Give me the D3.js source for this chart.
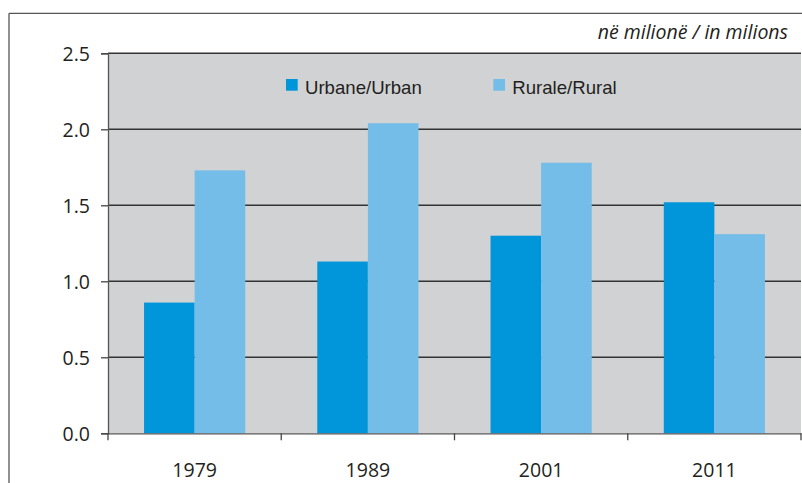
<!DOCTYPE html>
<html><head><meta charset="utf-8">
<script src="https://cdn.jsdelivr.net/npm/d3@7"></script>
<style>body{margin:0;background:#fff}svg{display:block}</style>
</head><body>
<svg id="c" width="802" height="483"></svg>
<script>
const years = ["1979","1989","2001","2011"];
const urban = [0.86, 1.13, 1.30, 1.52];
const rural = [1.73, 2.04, 1.78, 1.31];
const seriesNames = ["Urbane/Urban","Rurale/Rural"];
const seriesColors = ["#0096d9","#74bde8"];
const yTicks = [0, 0.5, 1.0, 1.5, 2.0, 2.5];
const unitLabel = "në milionë / in milions";

const svg = d3.select("#c");
const L = 108, R = 801, T = 53.3, B = 433.3;
const x = d3.scaleBand().domain(years).range([L, R]).paddingInner(0).paddingOuter(0);
const y = d3.scaleLinear().domain([0, 2.5]).range([B, T]);
const bw = x.bandwidth();
const x1 = d3.scaleBand().domain(seriesNames).range([bw*0.208, bw*0.792]).padding(0);

// outer frame
svg.append("line").attr("x1",9).attr("x2",802).attr("y1",13.3).attr("y2",13.3).attr("stroke","#555").attr("stroke-width",1.3);
svg.append("line").attr("x1",9).attr("x2",9).attr("y1",13.3).attr("y2",483).attr("stroke","#555").attr("stroke-width",1.3);

// plot background
svg.append("rect").attr("x",L).attr("y",T).attr("width",R-L).attr("height",B-T).attr("fill","#d1d2d4");

// gridlines
svg.append("g").selectAll("line").data(yTicks.filter(d=>d>0)).join("line")
  .attr("x1",L).attr("x2",R).attr("y1",d=>y(d)).attr("y2",d=>y(d))
  .attr("stroke","#333").attr("stroke-width",1.4);

// bars
const data = years.map((yr,i)=>({yr, vals:[urban[i], rural[i]]}));
const g = svg.append("g");
data.forEach(d=>{
  g.selectAll(null).data(d.vals.map((v,j)=>({v, s:seriesNames[j], c:seriesColors[j]}))).join("rect")
    .attr("x",e=>x(d.yr)+x1(e.s)).attr("width",x1.bandwidth())
    .attr("y",e=>y(e.v)).attr("height",e=>B-y(e.v)).attr("fill",e=>e.c);
});

// y axis
const ya = svg.append("g").attr("transform",`translate(${L},0)`)
  .call(d3.axisLeft(y).tickValues(yTicks).tickFormat(d3.format(".1f")).tickSize(7).tickPadding(11));
ya.select(".domain").attr("stroke","#555").attr("stroke-width",1.3);
ya.selectAll(".tick line").attr("stroke","#444").attr("stroke-width",1.3);
ya.selectAll("text").attr("font-family","Open Sans").attr("font-size",19.5).attr("fill","#231f20").attr("dy","0.36em");

// x axis
const xa = svg.append("g").attr("transform",`translate(0,${B})`)
  .call(d3.axisBottom(x).tickSize(0).tickPadding(30));
xa.select(".domain").attr("stroke","#555").attr("stroke-width",1.3);
xa.selectAll("text").attr("font-family","Open Sans").attr("font-size",19.5).attr("fill","#231f20");
const edges = years.map(yr=>x(yr)).concat([R]);
svg.append("g").selectAll("line").data(edges).join("line")
  .attr("x1",d=>d).attr("x2",d=>d).attr("y1",B).attr("y2",B+7).attr("stroke","#444").attr("stroke-width",1.3);

// legend
const legX = [286, 493.3];
seriesNames.forEach((s,i)=>{
  svg.append("rect").attr("x",legX[i]).attr("y",79).attr("width",11.7).attr("height",11.7).attr("fill",seriesColors[i]);
  svg.append("text").attr("x",legX[i]+19).attr("y",94).text(s)
    .attr("font-family","Liberation Sans, Arial").attr("font-size",18.6).attr("fill","#231f20");
});

// unit label
svg.append("text").attr("x",788).attr("y",39).attr("text-anchor","end").text(unitLabel)
  .attr("font-family","Open Sans").attr("font-style","italic").attr("font-size",19.5).attr("fill","#231f20");
</script>
</body></html>
